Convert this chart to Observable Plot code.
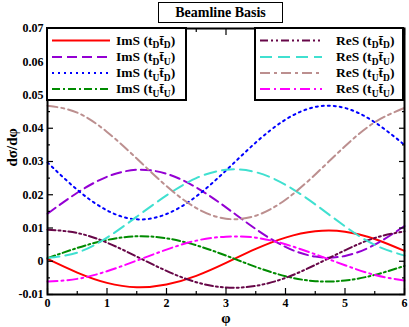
<!DOCTYPE html>
<html><head><meta charset="utf-8">
<script src="https://cdn.jsdelivr.net/npm/d3@7"></script>
<script src="https://cdn.jsdelivr.net/npm/@observablehq/plot@0.6"></script>
<style>
body{margin:0;background:#fff;}
#wrap{position:relative;width:409px;height:327px;font-family:"Liberation Serif","Times New Roman",serif;}
#wrap > svg{position:absolute;left:0;top:0;}
#title{position:absolute;left:158px;top:2px;width:123px;height:19px;border:1.5px solid #000;background:#fff;
  font:bold 14px "Liberation Serif",serif;text-align:center;line-height:19px;}
</style></head><body><div id="wrap"><div id="title">Beamline Basis</div></div>
<script>
// φ sample points
const phi = [0,0.5,1,1.5,2,2.5,3,3.5,4,4.5,5,5.5,6];
// ImS series
const imsDD = [0.0007,-0.0034,-0.0065,-0.0078,-0.0070,-0.0044,-0.0005,0.0037,0.0071,0.0090,0.0089,0.0067,0.0031];
const imsDU = [0.0143,0.0206,0.0254,0.0275,0.0263,0.0222,0.0162,0.0097,0.0043,0.0014,0.0016,0.0050,0.0106];
const imsUD = [0.0297,0.0215,0.0153,0.0126,0.0142,0.0195,0.0273,0.0357,0.0426,0.0464,0.0461,0.0418,0.0350];
const imsUU = [0.0009,0.0040,0.0064,0.0075,0.0069,0.0048,0.0017,-0.0017,-0.0045,-0.0060,-0.0058,-0.0041,-0.0014];
// ReS series
const resDD = [0.0095,0.0085,0.0056,0.0014,-0.0029,-0.0063,-0.0079,-0.0074,-0.0050,-0.0011,0.0033,0.0070,0.0090];
const resDU = [0.0010,0.0026,0.0071,0.0134,0.0198,0.0250,0.0275,0.0268,0.0230,0.0171,0.0105,0.0049,0.0017];
const resUD = [0.0468,0.0447,0.0389,0.0309,0.0226,0.0160,0.0128,0.0137,0.0185,0.0261,0.0346,0.0418,0.0461];
const resUU = [-0.0061,-0.0053,-0.0030,0.0002,0.0035,0.0062,0.0074,0.0071,0.0051,0.0021,-0.0012,-0.0041,-0.0058];

const seriesValues = [imsDD, imsDU, imsUD, imsUU, resDD, resDU, resUD, resUU];
const seriesKind = ["ImS","ImS","ImS","ImS","ReS","ReS","ReS","ReS"];
const seriesSub1 = ["D","D","U","U","D","D","U","U"];
const seriesSub2 = ["D","U","D","U","D","U","D","U"];
const seriesColor = ["#ff0000","#9400d3","#0000ff","#008b00","#670748","#40e0d0","#bc8f8f","#ff00ff"];
const seriesDash = [null,"10,5","2,4","8,3,2,3","8,3,2,3,2,3","12,6","10,4,3,4","10,4,2,4"];

const xTicks = [0,1,2,3,4,5,6];
const xMinor = [0.5,1.5,2.5,3.5,4.5,5.5];
const yTicks = [-0.01,0,0.01,0.02,0.03,0.04,0.05,0.06,0.07];
const yTickLabels = ["-0.01","0","0.01","0.02","0.03","0.04","0.05","0.06","0.07"];
const yMinor = [-0.005,0.005,0.015,0.025,0.035,0.045,0.055,0.065];

const font = "Liberation Serif";
const lineMarks = seriesValues.map((vals, i) =>
  Plot.line(phi.map((p, j) => ({phi: p, v: vals[j]})), {
    x: "phi", y: "v", stroke: seriesColor[i], strokeWidth: 2,
    strokeDasharray: seriesDash[i], curve: "natural"
  }));

const tickStyle = {strokeWidth: 1.2, label: null, text: null};
const chart = Plot.plot({
  width: 409, height: 327,
  marginLeft: 47, marginRight: 5, marginTop: 28, marginBottom: 33,
  style: {fontFamily: font, background: "transparent"},
  x: {domain: [0, 6]},
  y: {domain: [-0.01, 0.07]},
  marks: [
    ...lineMarks,
    Plot.axisX(xTicks, {anchor: "bottom", tickSize: -6, ...tickStyle}),
    Plot.axisX(xMinor, {anchor: "bottom", tickSize: -3, ...tickStyle}),
    Plot.axisX(xTicks, {anchor: "top", tickSize: -6, ...tickStyle}),
    Plot.axisX(xMinor, {anchor: "top", tickSize: -3, ...tickStyle}),
    Plot.axisY(yTicks, {anchor: "left", tickSize: -6, ...tickStyle}),
    Plot.axisY(yMinor, {anchor: "left", tickSize: -3, ...tickStyle}),
    Plot.axisY(yTicks, {anchor: "right", tickSize: -6, ...tickStyle}),
    Plot.axisY(yMinor, {anchor: "right", tickSize: -3, ...tickStyle}),
    Plot.axisX(xTicks, {anchor: "bottom", tickSize: 0, tickPadding: 4, label: null, fontSize: 12, fontWeight: "bold", fill: "#000", tickFormat: d => String(d)}),
    Plot.axisY(yTicks, {anchor: "left", tickSize: 0, tickPadding: 4, label: null, fontSize: 12, fontWeight: "bold", fill: "#000", tickFormat: (d, i) => yTickLabels[yTicks.indexOf(d)]}),
    Plot.frame({stroke: "#000", strokeWidth: 2}),
    Plot.text(["φ"], {frameAnchor: "bottom", dy: 24, fontSize: 15, fontWeight: "bold", lineAnchor: "middle", fill: "#000"}),
    Plot.text(["dσ/dφ"], {frameAnchor: "left", dx: -35, dy: 5, rotate: -90, fontSize: 15, fontWeight: "bold", fill: "#000"})
  ]
});
const wrap = document.getElementById("wrap");
wrap.insertBefore(chart, wrap.firstChild);

// Legend overlay
const leg = d3.select(wrap).append("svg").attr("width", 409).attr("height", 327)
  .style("position", "absolute").style("left", 0).style("top", 0)
  .attr("font-family", font);
const boxes = [{x: 47, w: 139, idx: [0,1,2,3], lx: 52, lw: 58, tx: 116}, {x: 255, w: 148, idx: [4,5,6,7], lx: 260, lw: 62, tx: 336}];
const rowY = [40.5, 57, 73, 89];
boxes.forEach(b => {
  leg.append("rect").attr("x", b.x).attr("y", 28).attr("width", b.w).attr("height", 72)
    .attr("fill", "#fff").attr("stroke", "#000").attr("stroke-width", 2);
  b.idx.forEach((si, r) => {
    const y = rowY[r];
    leg.append("line").attr("x1", b.lx).attr("x2", b.lx + b.lw).attr("y1", y).attr("y2", y)
      .attr("stroke", seriesColor[si]).attr("stroke-width", 2)
      .attr("stroke-dasharray", seriesDash[si]);
    const t = leg.append("text").attr("x", b.tx).attr("y", y + 4).attr("font-size", 13.5).attr("font-weight", "bold");
    t.append("tspan").text(seriesKind[si] + " (t");
    t.append("tspan").attr("font-size", 9.5).attr("dy", 3.5).text(seriesSub1[si]);
    t.append("tspan").attr("dy", -3.5).text("t\u0304");
    t.append("tspan").attr("font-size", 9.5).attr("dy", 3.5).text(seriesSub2[si]);
    t.append("tspan").attr("dy", -3.5).text(")");
  });
});
</script>
</body></html>
